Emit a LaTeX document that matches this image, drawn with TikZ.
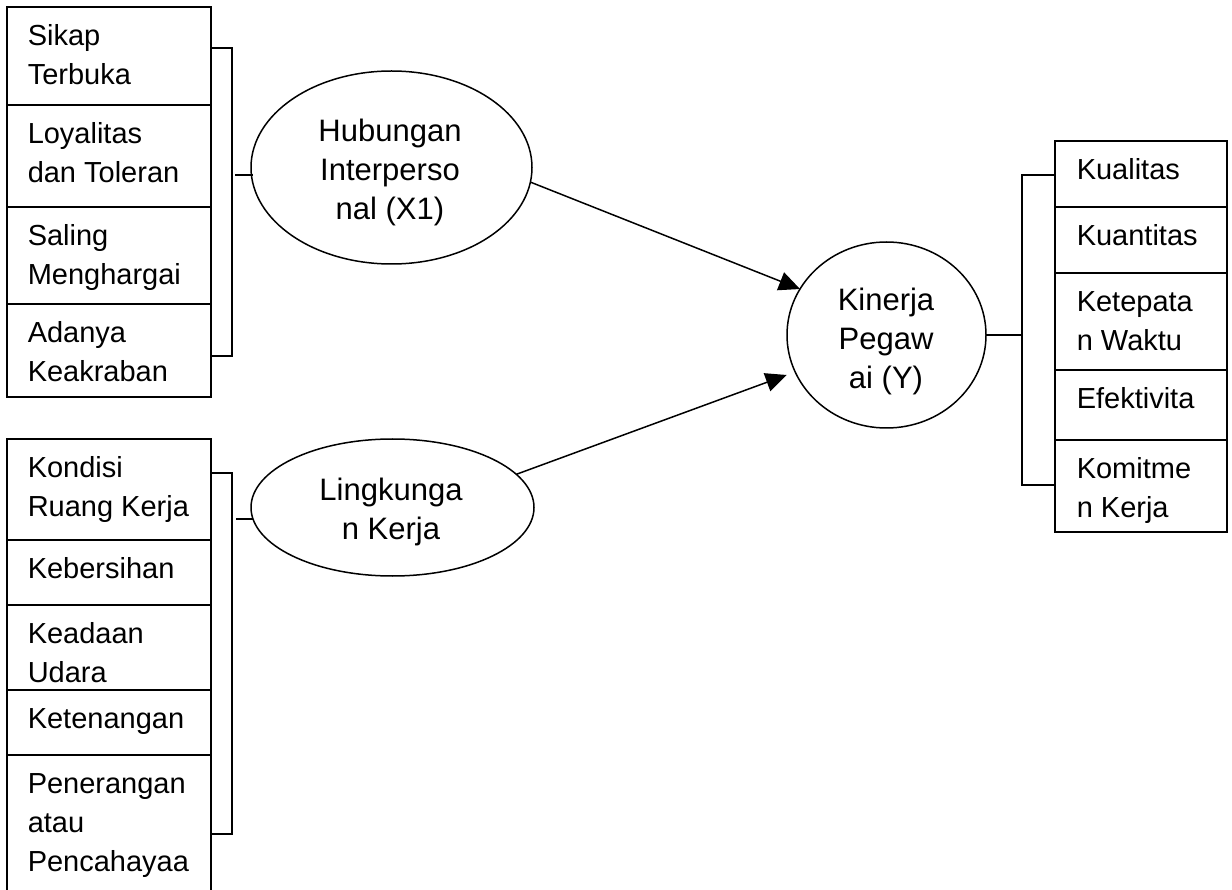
\documentclass[tikz,border=0pt]{standalone}
\usepackage{fontspec}
\setmainfont{Liberation Sans}
\usetikzlibrary{shapes.geometric,arrows.meta,calc}
\begin{document}
\begin{tikzpicture}[x=1pt,y=-1pt,line width=1.5pt,
  lbox/.style={draw,rectangle,anchor=north west,inner sep=0pt,outer sep=0pt,minimum width=204pt},
  rbox/.style={draw,rectangle,anchor=north west,inner sep=0pt,outer sep=0pt,minimum width=172pt},
  txt/.style={anchor=north west,inner sep=0pt,align=left,font=\fontsize{29}{39}\selectfont},
  ell/.style={draw,ellipse,inner sep=0pt,outer sep=0pt},
  ctxt/.style={anchor=north,inner sep=0pt,align=center,font=\fontsize{31}{39}\selectfont},
  arr/.style={-{Triangle[length=21pt,width=19pt]},line width=1.5pt}
]
\path[fill=white,use as bounding box] (0,0) rectangle (1232,890);

% left top indicator boxes
\node[lbox,minimum height=98pt] (a1) at (7,7) {};
\node[lbox,minimum height=102pt] (a2) at (7,105) {};
\node[lbox,minimum height=97pt] (a3) at (7,207) {};
\node[lbox,minimum height=93pt] (a4) at (7,304) {};
\node[txt] (ta1) at ([shift={(20,10.7)}]a1.north west) {\strut Sikap\\Terbuka};
\node[txt] (ta2) at ([shift={(20,10.7)}]a2.north west) {\strut Loyalitas\\dan Toleran};
\node[txt] (ta3) at ([shift={(20,10.7)}]a3.north west) {\strut Saling\\Menghargai};
\node[txt] (ta4) at ([shift={(20,10.7)}]a4.north west) {\strut Adanya\\Keakraban};

% left bottom indicator boxes
\node[lbox,minimum height=101pt] (b1) at (7,439) {};
\node[lbox,minimum height=65pt] (b2) at (7,540) {};
\node[lbox,minimum height=85pt] (b3) at (7,605) {};
\node[lbox,minimum height=65pt] (b4) at (7,690) {};
\node[lbox,minimum height=150pt] (b5) at (7,755) {};
\node[txt] (tb1) at ([shift={(20,10.7)}]b1.north west) {\strut Kondisi\\Ruang Kerja};
\node[txt] (tb2) at ([shift={(20,10.7)}]b2.north west) {\strut Kebersihan};
\node[txt] (tb3) at ([shift={(20,10.7)}]b3.north west) {\strut Keadaan\\Udara};
\node[txt] (tb4) at ([shift={(20,10.7)}]b4.north west) {\strut Ketenangan};
\node[txt] (tb5) at ([shift={(20,10.7)}]b5.north west) {\strut Penerangan\\atau\\Pencahayaa};

% right indicator boxes
\node[rbox,minimum height=66pt] (c1) at (1055,141) {};
\node[rbox,minimum height=66pt] (c2) at (1055,207) {};
\node[rbox,minimum height=97pt] (c3) at (1055,273) {};
\node[rbox,minimum height=70pt] (c4) at (1055,370) {};
\node[rbox,minimum height=92pt] (c5) at (1055,440) {};
\node[txt] (tc1) at ([shift={(21,10.7)}]c1.north west) {\strut Kualitas};
\node[txt] (tc2) at ([shift={(21,10.7)}]c2.north west) {\strut Kuantitas};
\node[txt] (tc3) at ([shift={(21,10.7)}]c3.north west) {\strut Ketepata\\n Waktu};
\node[txt] (tc4) at ([shift={(21,10.7)}]c4.north west) {\strut Efektivita};
\node[txt] (tc5) at ([shift={(21,10.7)}]c5.north west) {\strut Komitme\\n Kerja};

% latent variables
\node[ell,minimum width=281pt,minimum height=193pt] (hub) at (391.5,167.5) {};
\node[ell,minimum width=283pt,minimum height=137pt] (lin) at (392.5,507.5) {};
\node[ell,minimum width=199pt,minimum height=186pt] (kin) at (886.5,335) {};
\node[ctxt] (thub) at (390,113.4) {\strut Hubungan\\Interperso\\nal (X1)};
\node[ctxt] (tlin) at (391,472.7) {\strut Lingkunga\\n Kerja};
\node[ctxt] (tkin) at (886,282.7) {\strut Kinerja\\Pegaw\\ai (Y)};

% brackets
\coordinate (ua) at (232,48);
\coordinate (ub) at (232,356);
\coordinate (ut) at (235,175);
\draw (a1.east |- ua) -- (ua) -- (ub) -- (a4.east |- ub);
\draw (ut) -- ([xshift=2pt]ut -| hub.west);

\coordinate (la) at (232,473);
\coordinate (lb) at (232,834);
\coordinate (lt) at (236,519);
\draw (b1.east |- la) -- (la) -- (lb) -- (b5.east |- lb);
\draw (lt) -- ([xshift=2pt]lt -| lin.west);

\coordinate (ra) at (1022,175);
\coordinate (rb) at (1022,485);
\draw (c1.west |- ra) -- (ra) -- (rb) -- (c5.west |- rb);
\draw (kin.east) -- (kin.east -| ra);

% arrows
\draw[arr] (hub.-6.3) -- (kin.152.5);
\draw[arr,shorten >=9pt] (lin.15.5) -- (kin.202.6);
\end{tikzpicture}
\end{document}
